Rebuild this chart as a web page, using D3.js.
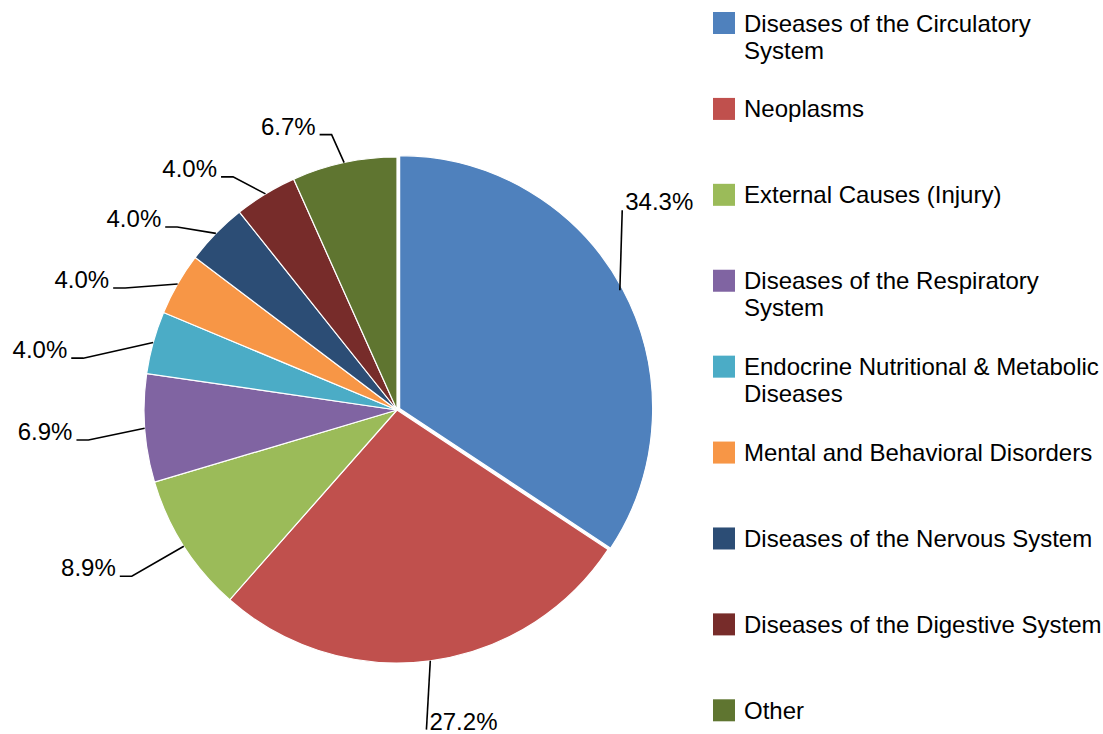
<!DOCTYPE html>
<html>
<head>
<meta charset="utf-8">
<script src="https://cdn.jsdelivr.net/npm/d3@7"></script>
<style>
  html, body { margin: 0; padding: 0; background: #fff; }
  svg { display: block; font-family: "Liberation Sans", Arial, sans-serif; }
</style>
</head>
<body>
<svg id="chart" width="1103" height="734"></svg>
<script>
// data
var categories = [
    "Diseases of the Circulatory System",
    "Neoplasms",
    "External Causes (Injury)",
    "Diseases of the Respiratory System",
    "Endocrine Nutritional & Metabolic Diseases",
    "Mental and Behavioral Disorders",
    "Diseases of the Nervous System",
    "Diseases of the Digestive System",
    "Other"
];
var shares = [34.3, 27.2, 8.9, 6.9, 4.0, 4.0, 4.0, 4.0, 6.7];
var colors = ["#4F81BD", "#C0504D", "#9BBB59", "#8064A2", "#4BACC6",
              "#F79646", "#2C4D75", "#772C2A", "#5F7530"];

// label placement (labels were hand-placed in the original): angle shift in degrees, elbow radius
var labelNudge = [[-13.3, 301], [2.3, 321], [0.5, 313], [-1.4, 310], [-6.1, 318],
                  [-5.7, 298], [-4.5, 286], [-3.8, 285], [-1.3, 283]];

var svg = d3.select("#chart"),
    cx = 397,
    cy = 410,
    r = 253,
    fontSize = 24,
    explode = 3;

var color = d3.scaleOrdinal().domain(categories).range(colors);

var pie = d3.pie().sort(null).value(function(d){ return d; });
var arcs = pie(shares);
var arc = d3.arc().innerRadius(0).outerRadius(r);

var g = svg.append("g").attr("transform", "translate(" + cx + "," + cy + ")");

function mid(d){ return (d.startAngle + d.endAngle) / 2; }
function polar(a, rad){ return [rad * Math.sin(a), -rad * Math.cos(a)]; }

// slices
g.selectAll("path.slice")
    .data(arcs)
  .enter().append("path")
    .attr("class", "slice")
    .attr("d", arc)
    .attr("fill", function(d, i){ return color(categories[i]); })
    .attr("stroke", "#fff")
    .attr("stroke-width", 1.2)
    .attr("transform", function(d, i){
        if(i !== 0) return null;   // first slice is pulled out a little
        var p = polar(mid(d), explode);
        return "translate(" + p[0] + "," + p[1] + ")";
    });

// leader lines + percentage labels
arcs.forEach(function(d, i){
    var a = mid(d),
        start = polar(a, r),
        elbow = polar(a + labelNudge[i][0] * Math.PI / 180, labelNudge[i][1]),
        left = elbow[0] < 0,
        pts = [start, elbow];

    if(left) pts.push([elbow[0] - 12, elbow[1]]);

    g.append("path")
        .attr("d", d3.line()(pts))
        .attr("fill", "none")
        .attr("stroke", "#000")
        .attr("stroke-width", 1.6);

    g.append("text")
        .attr("x", left ? elbow[0] - 16 : elbow[0] + 3)
        .attr("y", elbow[1])
        .attr("text-anchor", left ? "end" : "start")
        .attr("font-size", fontSize)
        .attr("fill", "#000")
        .text(d3.format(".1f")(shares[i]) + "%");
});

// legend
var rowY = d3.scalePoint().domain(categories).range([12, 699.3]);
var legend = svg.append("g");

var rows = legend.selectAll("g.row")
    .data(categories)
  .enter().append("g")
    .attr("class", "row")
    .attr("transform", function(d){ return "translate(713," + rowY(d) + ")"; });

rows.append("rect")
    .attr("width", 22)
    .attr("height", 22)
    .attr("fill", function(d){ return color(d); });

rows.each(function(d){
    var t = d3.select(this).append("text")
        .attr("x", 31)
        .attr("y", 19.5)
        .attr("font-size", fontSize)
        .attr("fill", "#000");
    wrap(t, d, fontSize * 15.2);
});

function wrap(t, str, maxW){
    var words = str.split(" "),
        line = [],
        tspan = t.append("tspan").attr("x", 31).attr("dy", 0);
    words.forEach(function(w){
        line.push(w);
        tspan.text(line.join(" "));
        if(tspan.node().getComputedTextLength() > maxW && line.length > 1){
            line.pop();
            tspan.text(line.join(" "));
            line = [w];
            tspan = t.append("tspan").attr("x", 31).attr("dy", 27).text(w);
        }
    });
}
</script>
</body>
</html>
